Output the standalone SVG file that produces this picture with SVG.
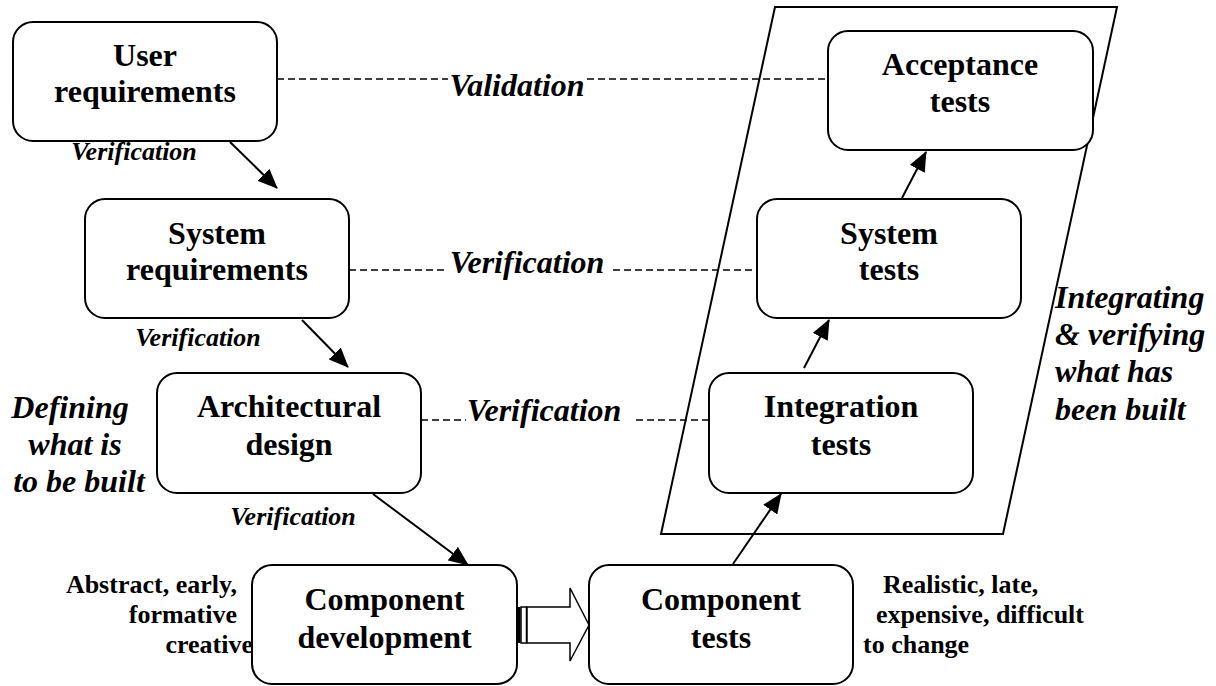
<svg xmlns="http://www.w3.org/2000/svg" width="1216" height="686" viewBox="0 0 1216 686">
  <style>
    text { font-family: "Liberation Serif", "Times New Roman", serif; fill: #000; }
    .node rect { fill: #fff; stroke: #000; stroke-width: 2; }
    .node text { font-size: 32px; font-weight: bold; text-anchor: middle; }
    .flow { stroke: #000; stroke-width: 2; fill: none; marker-end: url(#head); }
    .trace { stroke: #000; stroke-width: 1.6; stroke-dasharray: 7 4; fill: none; }
    .big { font-size: 32px; font-weight: bold; font-style: italic; }
    .small { font-size: 26px; font-weight: bold; font-style: italic; text-anchor: middle; }
    .note { font-size: 26px; font-weight: bold; }
    .mid { text-anchor: middle; }
    .end { text-anchor: end; }
  </style>
  <defs>
    <marker id="head" viewBox="0 0 20 17" refX="19" refY="8.5" markerWidth="20" markerHeight="17" markerUnits="userSpaceOnUse" orient="auto">
      <path d="M0,0 L20,8.5 L0,17 Z" fill="#000"/>
    </marker>
  </defs>

  <rect width="1216" height="686" fill="#fff"/>

  <!-- frame around the integration and test side -->
  <polygon id="test-frame" points="775,7 1117,7 1003,534 661,534" fill="none" stroke="#000" stroke-width="2"/>

  <!-- connectors: dashed traceability lines, flow arrows, hand-off arrow -->
  <g id="connectors">
    <path class="trace" d="M277,79 H448 M587,79 H828"/>
    <path class="trace" d="M349,270 H446 M613,270 H757"/>
    <path class="trace" d="M421,420 H466 M636,420 H709"/>

    <path class="flow" d="M230,142 L277,188"/>
    <path class="flow" d="M302,320 L348,367"/>
    <path class="flow" d="M373,494 L468,565"/>
    <path class="flow" d="M733,564 L781,494"/>
    <path class="flow" d="M804,368 L829,320"/>
    <path class="flow" d="M902,198 L926,152"/>

    <g id="handoff">
      <rect x="517" y="607" width="3.5" height="36" fill="#000"/>
      <rect x="521" y="607" width="5.5" height="36" fill="#fff" stroke="#000" stroke-width="1.5"/>
      <polygon points="527,607 570,607 570,588 589,625 570,661 570,643 527,643" fill="#fff" stroke="#000" stroke-width="1.5"/>
    </g>

    <text class="big mid" x="517" y="96">Validation</text>
    <text class="big mid" x="527" y="273">Verification</text>
    <text class="big mid" x="544" y="421">Verification</text>

    <text class="small" x="134" y="160">Verification</text>
    <text class="small" x="198" y="346">Verification</text>
    <text class="small" x="293" y="525">Verification</text>
  </g>

  <!-- specification side -->
  <g id="user-requirements" class="node">
    <rect x="13" y="22" width="264" height="119" rx="20"/>
    <text x="145" y="66">User</text>
    <text x="145" y="102">requirements</text>
  </g>
  <g id="system-requirements" class="node">
    <rect x="85" y="199" width="264" height="119" rx="20"/>
    <text x="217" y="244">System</text>
    <text x="217" y="280">requirements</text>
  </g>
  <g id="architectural-design" class="node">
    <rect x="157" y="373" width="264" height="120" rx="20"/>
    <text x="289" y="417">Architectural</text>
    <text x="289" y="455">design</text>
  </g>
  <g id="component-development" class="node">
    <rect x="252" y="565" width="265" height="119" rx="20"/>
    <text x="384.5" y="610">Component</text>
    <text x="384.5" y="648">development</text>
  </g>

  <!-- test side -->
  <g id="component-tests" class="node">
    <rect x="589" y="565" width="264" height="119" rx="20"/>
    <text x="721" y="610">Component</text>
    <text x="721" y="648">tests</text>
  </g>
  <g id="integration-tests" class="node">
    <rect x="709" y="373" width="264" height="120" rx="20"/>
    <text x="841" y="417">Integration</text>
    <text x="841" y="455">tests</text>
  </g>
  <g id="system-tests" class="node">
    <rect x="757" y="199" width="264" height="119" rx="20"/>
    <text x="889" y="244">System</text>
    <text x="889" y="280">tests</text>
  </g>
  <g id="acceptance-tests" class="node">
    <rect x="828" y="31" width="265" height="119" rx="20"/>
    <text x="960" y="75">Acceptance</text>
    <text x="960" y="112">tests</text>
  </g>

  <!-- side captions -->
  <g id="caption-defining" class="big mid">
    <text x="70" y="418">Defining</text>
    <text x="75" y="455">what is</text>
    <text x="79" y="492">to be built</text>
  </g>
  <g id="caption-integrating" class="big">
    <text x="1055" y="308">Integrating</text>
    <text x="1055" y="345">&amp; verifying</text>
    <text x="1055" y="382">what has</text>
    <text x="1055" y="420">been built</text>
  </g>
  <g id="caption-early" class="note end">
    <text x="237" y="593">Abstract, early,</text>
    <text x="237" y="623">formative</text>
    <text x="253" y="653">creative</text>
  </g>
  <g id="caption-late" class="note">
    <text x="883" y="593">Realistic, late,</text>
    <text x="876" y="623">expensive, difficult</text>
    <text x="863" y="653">to change</text>
  </g>
</svg>
